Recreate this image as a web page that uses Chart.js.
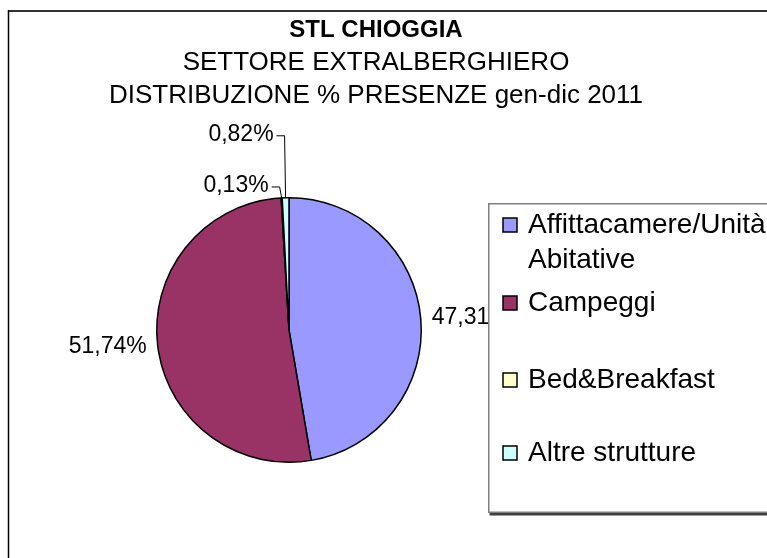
<!DOCTYPE html>
<html>
<head>
<meta charset="utf-8">
<script src="https://cdn.jsdelivr.net/npm/chart.js@4.4.0/dist/chart.umd.min.js"></script>
<style>
  html, body { margin: 0; padding: 0; background: #fff; }
  #wrap { width: 767px; height: 558px; }
</style>
</head>
<body>
<div id="wrap"><canvas id="pie" width="767" height="558"></canvas></div>
<script>
// ---- data ----
const TITLE_LINES = ['STL CHIOGGIA', 'SETTORE EXTRALBERGHIERO', 'DISTRIBUZIONE % PRESENZE gen-dic 2011'];
const CATEGORIES  = ['Affittacamere/Unità Abitative', 'Campeggi', 'Bed&Breakfast', 'Altre strutture'];
const SHARES      = [47.31, 51.74, 0.13, 0.82];
const SLICE_COLORS = ['#9999ff', '#993366', '#ffffcc', '#ccffff'];

const FONT = '"Liberation Sans", Arial, sans-serif';
const fmtPct = v => v.toFixed(2).replace('.', ',') + '%';

// outer frame (chart area border, cropped on the right/bottom)
const framePlugin = {
  id: 'frame',
  beforeDraw(chart) {
    const { ctx, width, height } = chart;
    ctx.save();
    ctx.fillStyle = '#fff';
    ctx.fillRect(0, 0, width, height);
    ctx.strokeStyle = '#333';
    ctx.lineWidth = 2;
    ctx.beginPath();
    ctx.moveTo(8, 11); ctx.lineTo(width, 11);
    ctx.stroke();
    ctx.strokeStyle = '#000';
    ctx.lineWidth = 1.5;
    ctx.beginPath();
    ctx.moveTo(8.5, 10); ctx.lineTo(8.5, height);
    ctx.stroke();
    ctx.restore();
  },
};

const titlePlugin = {
  id: 'excelTitle',
  afterDraw(chart) {
    const { ctx } = chart;
    ctx.save();
    ctx.fillStyle = '#000';
    ctx.textAlign = 'center';
    ctx.textBaseline = 'alphabetic';
    TITLE_LINES.forEach((t, i) => {
      ctx.font = (i === 0 ? 'bold 24px ' : '26px ') + FONT;
      ctx.fillText(t, 376, 37 + i * 33);
    });
    ctx.restore();
  },
};

// data labels: outside end for big slices, callout lines for tiny ones
const CALLOUTS = { 2: { dx: -2, dy: -11 }, 3: { dx: -1, dy: -62 } };

const labelPlugin = {
  id: 'sliceLabels',
  afterDatasetsDraw(chart) {
    const { ctx } = chart;
    const meta = chart.getDatasetMeta(0);
    ctx.save();
    ctx.font = '23px ' + FONT;
    ctx.fillStyle = '#000';
    ctx.strokeStyle = '#000';
    ctx.lineWidth = 1;
    ctx.textBaseline = 'middle';
    meta.data.forEach((arc, i) => {
      const { x, y, startAngle, endAngle, outerRadius } = arc.getProps(['x', 'y', 'startAngle', 'endAngle', 'outerRadius'], true);
      const mid = (startAngle + endAngle) / 2;
      const cos = Math.cos(mid), sin = Math.sin(mid);
      const text = fmtPct(SHARES[i]);
      const co = CALLOUTS[i];
      if (co) {
        const ex = x + outerRadius * cos, ey = y + outerRadius * sin;
        const bx = ex + co.dx, by = ey + co.dy;
        ctx.beginPath();
        ctx.moveTo(ex, ey); ctx.lineTo(bx, by); ctx.lineTo(bx - 8, by);
        ctx.stroke();
        ctx.textAlign = 'right';
        ctx.fillText(text, bx - 11, by - 1);
      } else {
        const r = outerRadius + 11;
        ctx.textAlign = cos >= 0 ? 'left' : 'right';
        ctx.fillText(text, x + r * cos, y + r * sin);
      }
    });
    ctx.restore();
  },
};

function wrapText(ctx, text, maxW) {
  const words = text.split(' ');
  const lines = [];
  let cur = '';
  words.forEach(w => {
    const test = cur ? cur + ' ' + w : w;
    if (cur && ctx.measureText(test).width > maxW) { lines.push(cur); cur = w; }
    else cur = test;
  });
  if (cur) lines.push(cur);
  return lines;
}

// legend box, drawn on top (it covers part of the 47,31% label)
const LEGEND_ROWS = [225, 303, 380, 453];

const legendPlugin = {
  id: 'excelLegend',
  afterDraw(chart) {
    const { ctx, width } = chart;
    const left = 488, top = 203, bottom = 513;
    ctx.save();
    ctx.fillStyle = '#404040';
    ctx.fillRect(left + 1.5, top + 1.5, width, bottom - top + 1);
    ctx.fillStyle = '#fff';
    ctx.fillRect(left, top, width, bottom - top);
    ctx.strokeStyle = '#808080';
    ctx.lineWidth = 1.5;
    ctx.strokeRect(left + 0.75, top + 0.75, width, bottom - top - 1.5);

    ctx.font = '28px ' + FONT;
    ctx.textAlign = 'left';
    ctx.textBaseline = 'alphabetic';
    CATEGORIES.forEach((c, i) => {
      const cy = LEGEND_ROWS[i];
      ctx.fillStyle = SLICE_COLORS[i];
      ctx.fillRect(503, cy - 7, 14, 14);
      ctx.strokeStyle = '#000';
      ctx.lineWidth = 1.5;
      ctx.strokeRect(503, cy - 7, 14, 14);
      ctx.fillStyle = '#000';
      wrapText(ctx, c, 250).forEach((ln, j) => ctx.fillText(ln, 528, cy + 8 + j * 35));
    });
    ctx.restore();
  },
};

new Chart(document.getElementById('pie'), {
  type: 'pie',
  data: {
    labels: CATEGORIES,
    datasets: [{
      data: SHARES,
      backgroundColor: SLICE_COLORS,
      borderColor: '#000',
      borderWidth: 1.5,
    }],
  },
  options: {
    responsive: false,
    animation: false,
    devicePixelRatio: 1,
    layout: { padding: { left: 156, right: 345, top: 197, bottom: 95 } },
    plugins: {
      legend: { display: false },
      title: { display: false },
      tooltip: { enabled: false },
    },
  },
  plugins: [framePlugin, labelPlugin, legendPlugin, titlePlugin],
});
</script>
</body>
</html>
